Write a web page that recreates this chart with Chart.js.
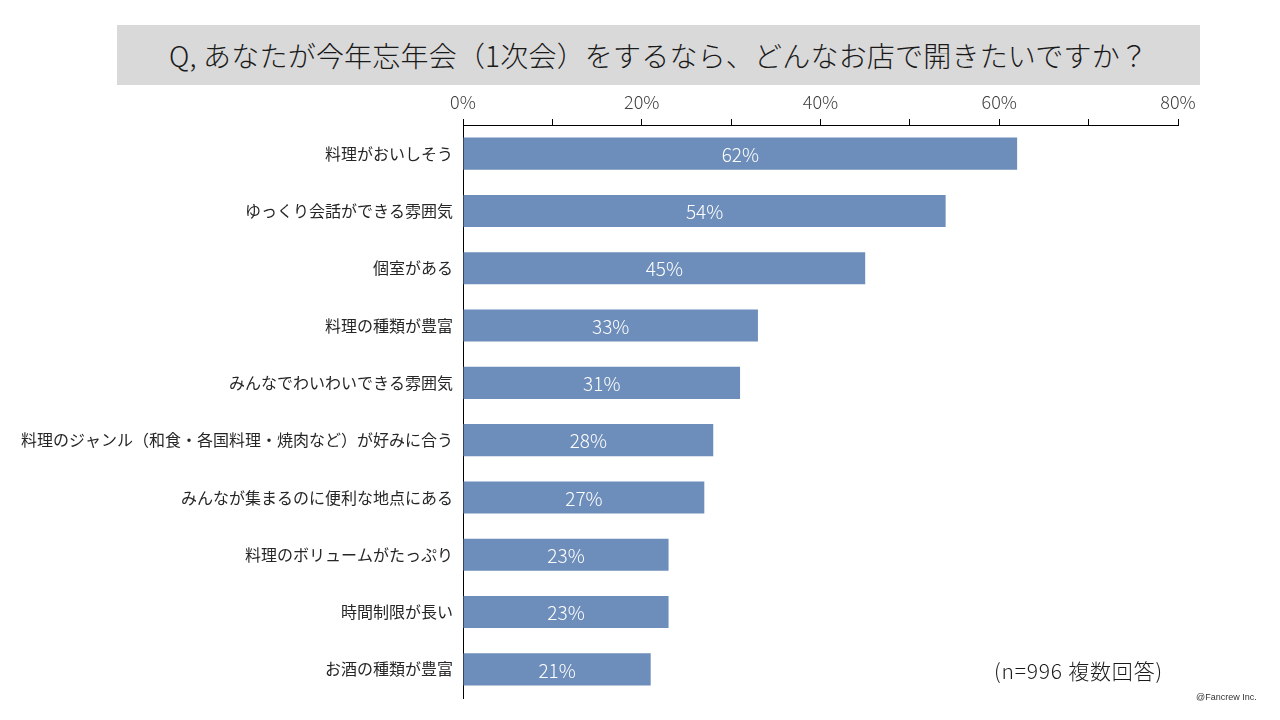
<!DOCTYPE html>
<html>
<head>
<meta charset="utf-8">
<script src="https://cdn.jsdelivr.net/npm/chart.js@4"></script>
<style>
body { margin:0; background:#fff; font-family:"Noto Sans CJK JP", sans-serif; }
#wrap { position:relative; width:1280px; height:720px; }
#title { position:absolute; left:117px; top:25px; width:1083px; height:60px; background:#d9d9d9;
  font-size:28px; font-weight:300; line-height:60px; text-align:center; color:#1a1a1a; letter-spacing:0.2px; }
#note { position:absolute; left:994px; top:655px; font-size:21px; font-weight:300; color:#1a1a1a; letter-spacing:0.8px; }
#copy { position:absolute; left:1196px; top:692px; font-size:9px; color:#333; font-family:Arial, "Liberation Sans", sans-serif; }
canvas { position:absolute; left:0; top:0; }
</style>
</head>
<body>
<div id="wrap">
<canvas id="barChart" width="1280" height="720"></canvas>
<div id="title">Q, あなたが今年忘年会（1次会）をするなら、どんなお店で開きたいですか？</div>
<div id="note">(n=996 複数回答)</div>
<div id="copy">@Fancrew Inc.</div>
</div>
<script>
// data
const categories = [
'料理がおいしそう',
'ゆっくり会話ができる雰囲気',
'個室がある',
'料理の種類が豊富',
'みんなでわいわいできる雰囲気',
'料理のジャンル（和食・各国料理・焼肉など）が好みに合う',
'みんなが集まるのに便利な地点にある',
'料理のボリュームがたっぷり',
'時間制限が長い',
'お酒の種類が豊富'
];
const values = [62,54,45,33,31,28,27,23,23,21];
const tickLabels = ['0%','20%','40%','60%','80%']; // shown every 20, minor ticks every 10
const axisMax = 80;

// value labels inside bars
const barLabels = {
id: 'barLabels',
afterDatasetsDraw(chart){
const c = chart.ctx;
const meta = chart.getDatasetMeta(0);
c.save();
c.font = '300 19px "Noto Sans CJK JP", sans-serif';
c.fillStyle = '#ffffff';
c.textAlign = 'center';
c.textBaseline = 'middle';
meta.data.forEach((bar, i) => {
const p = bar.getProps(['x','y','base'], true);
c.fillText(values[i] + '%', (p.x + p.base)/2, p.y + 1);
});
c.restore();
}
};

const ctx = document.getElementById('barChart');
new Chart(ctx, {
type: 'bar',
data: {
labels: categories,
datasets: [{
data: values,
backgroundColor: '#6d8dba',
barPercentage: 0.56,
categoryPercentage: 1
}]
},
options: {
indexAxis: 'y',
responsive: false,
animation: false,
layout: { padding: { left: 0, top: 0, right: 102, bottom: 22 } },
plugins: { legend: { display: false }, tooltip: { enabled: false } },
scales: {
x: {
position: 'top',
min: 0,
max: axisMax,
afterFit(scale){ scale.height = 125; },
border: { display: true, color: '#000', width: 1 },
grid: { drawOnChartArea: false, drawTicks: true, tickLength: 6, color: '#000' },
ticks: {
stepSize: 10,
padding: 6,
color: '#404040',
font: { family: '"Noto Sans CJK JP", sans-serif', size: 18, weight: 300 },
callback: (v) => v % 20 === 0 ? tickLabels[v/20] : ''
}
},
y: {
afterFit(scale){ scale.width = 463; },
border: { display: true, color: '#000', width: 1 },
grid: { display: false, drawTicks: false },
ticks: {
padding: 10,
color: '#262626',
font: { family: '"Noto Sans CJK JP", sans-serif', size: 16 }
}
}
}
},
plugins: [barLabels]
});
</script>
</body>
</html>
